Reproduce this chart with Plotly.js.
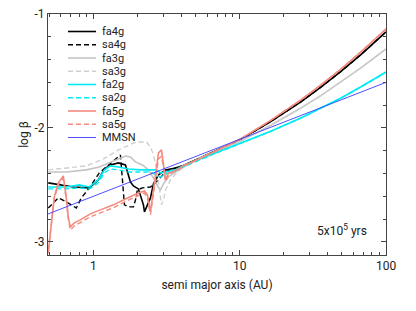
<!DOCTYPE html>
<html>
<head>
<meta charset="utf-8">
<script src="https://cdn.plot.ly/plotly-3.0.1.min.js"></script>
<style>html,body{margin:0;padding:0;background:#fff;}#chart{width:416px;height:311px;}</style>
</head>
<body>
<div id="chart"></div>
<script>
// ---- data (semi major axis in AU, log beta) ----
var tailA = [4.13, 5.4, 7.41, 10.2, 16.3, 26.2, 35.9, 49.2, 67.4, 100];

var fa4gA = [0.492, 0.585, 0.730, 0.939, 1.082, 1.190, 1.307, 1.483, 1.657, 1.792, 1.879, 2.032, 2.200, 2.236, 2.457, 2.576, 2.788, 3.113, 3.644];
var fa4gB = [-2.482, -2.500, -2.518, -2.526, -2.456, -2.360, -2.325, -2.307, -2.325, -2.474, -2.509, -2.535, -2.675, -2.737, -2.614, -2.491, -2.412, -2.368, -2.351];
var fa4gTail = [-2.33, -2.262, -2.184, -2.098, -1.944, -1.771, -1.642, -1.504, -1.356, -1.157];

var sa4gA = [0.492, 0.576, 0.653, 0.765, 0.828, 0.939, 1.099, 1.228, 1.371, 1.531, 1.581, 1.631, 1.737, 1.879, 1.940, 2.001, 2.166, 2.457, 2.659, 2.877, 3.113, 3.644];
var sa4gB = [-2.702, -2.614, -2.649, -2.702, -2.614, -2.526, -2.395, -2.342, -2.289, -2.237, -2.456, -2.675, -2.693, -2.693, -2.632, -2.544, -2.526, -2.518, -2.482, -2.430, -2.386, -2.351];
var sa4gTail = [-2.33, -2.262, -2.184, -2.098, -1.944, -1.771, -1.642, -1.504, -1.356, -1.157];

var fa3gA = [0.492, 0.653, 0.895, 1.099, 1.228, 1.416, 1.657, 1.792, 1.940, 2.166, 2.380, 2.576, 2.744, 2.877, 3.016, 3.264, 3.644];
var fa3gB = [-2.386, -2.386, -2.368, -2.342, -2.316, -2.281, -2.246, -2.254, -2.298, -2.325, -2.368, -2.439, -2.509, -2.544, -2.491, -2.430, -2.386];
var fa3gTail = [-2.345, -2.262, -2.19, -2.114, -1.976, -1.825, -1.716, -1.598, -1.473, -1.307];

var sa3gA = [0.492, 0.653, 0.895, 1.048, 1.171, 1.307, 1.483, 1.657, 1.879, 2.098, 2.307, 2.457, 2.576, 2.701, 2.788, 2.923, 3.016, 3.113, 3.368, 3.644];
var sa3gB = [-2.368, -2.351, -2.333, -2.298, -2.272, -2.237, -2.193, -2.167, -2.132, -2.123, -2.123, -2.167, -2.237, -2.351, -2.500, -2.675, -2.632, -2.544, -2.456, -2.404];
var sa3gTail = [-2.345, -2.262, -2.19, -2.114, -1.976, -1.825, -1.716, -1.598, -1.473, -1.307];

var fa2gA = [0.492, 0.653, 0.802, 0.939, 1.082, 1.190, 1.307, 1.483, 1.737, 2.098, 2.457, 2.701, 2.877, 3.113, 3.644];
var fa2gB = [-2.518, -2.518, -2.500, -2.518, -2.456, -2.368, -2.333, -2.342, -2.360, -2.368, -2.368, -2.368, -2.395, -2.386, -2.368];
var fa2gTail = [-2.33, -2.27, -2.20, -2.132, -2.028, -1.912, -1.827, -1.737, -1.639, -1.509];

var sa2gA = [0.492, 0.653, 0.802, 0.939, 1.082, 1.190, 1.307, 1.483, 1.737, 2.098, 2.457, 2.701, 2.877, 3.113, 3.644];
var sa2gB = [-2.535, -2.535, -2.526, -2.535, -2.482, -2.395, -2.360, -2.368, -2.386, -2.386, -2.386, -2.412, -2.430, -2.404, -2.377];
var sa2gTail = [-2.34, -2.275, -2.205, -2.135, -2.030, -1.914, -1.829, -1.739, -1.641, -1.511];

var fa5gA = [0.492, 0.515, 0.541, 0.576, 0.604, 0.623, 0.653, 0.674, 0.696, 0.741, 0.815, 0.954, 1.117, 1.371, 1.657, 2.032, 2.236, 2.343, 2.457, 2.576, 2.701, 2.788, 2.923, 3.016, 3.113, 3.264, 3.475, 3.821];
var fa5gB = [-3.10, -2.833, -2.605, -2.482, -2.439, -2.421, -2.605, -2.781, -2.868, -2.833, -2.807, -2.754, -2.719, -2.675, -2.623, -2.570, -2.553, -2.588, -2.737, -2.544, -2.325, -2.219, -2.193, -2.307, -2.456, -2.395, -2.386, -2.360];
var fa5gTail = [-2.331, -2.267, -2.183, -2.095, -1.933, -1.754, -1.623, -1.483, -1.332, -1.132];

var sa5gA = [0.492, 0.515, 0.541, 0.576, 0.604, 0.623, 0.653, 0.674, 0.696, 0.741, 0.815, 0.954, 1.117, 1.371, 1.657, 2.032, 2.236, 2.343, 2.457, 2.576, 2.701, 2.788, 2.923, 3.016, 3.113, 3.264, 3.475, 3.821];
var sa5gB = [-3.07, -2.85, -2.62, -2.50, -2.46, -2.44, -2.63, -2.80, -2.895, -2.86, -2.83, -2.78, -2.745, -2.70, -2.645, -2.59, -2.57, -2.62, -2.76, -2.58, -2.37, -2.27, -2.25, -2.34, -2.47, -2.41, -2.39, -2.365];
var sa5gTail = [-2.331, -2.267, -2.183, -2.095, -1.933, -1.754, -1.623, -1.483, -1.332, -1.132];

var mmsnA = [0.49, 100];
var mmsnB = [-2.755, -1.6];

var names = ["fa4g", "sa4g", "fa3g", "sa3g", "fa2g", "sa2g", "fa5g", "sa5g", "MMSN"];
var xTickVals = [1, 10, 100];
var xTickText = ["1", "10", "100"];

// ---- styles ----
var colors = ["#000000", "#000000", "#c4c4c4", "#cfcfcf", "#00ecf4", "#00ecf4", "#f48a7e", "#f48a7e", "#3a3aff"];
var dashes = ["solid", "5px,3px", "solid", "5px,3px", "solid", "5px,3px", "solid", "5px,3px", "solid"];
var widths = [1.6, 1.4, 1.6, 1.4, 1.6, 1.4, 1.6, 1.4, 0.9];

var xs = [fa4gA.concat(tailA), sa4gA.concat(tailA), fa3gA.concat(tailA), sa3gA.concat(tailA),
          fa2gA.concat(tailA), sa2gA.concat(tailA), fa5gA.concat(tailA), sa5gA.concat(tailA), mmsnA];
var ys = [fa4gB.concat(fa4gTail), sa4gB.concat(sa4gTail), fa3gB.concat(fa3gTail), sa3gB.concat(sa3gTail),
          fa2gB.concat(fa2gTail), sa2gB.concat(sa2gTail), fa5gB.concat(fa5gTail), sa5gB.concat(sa5gTail), mmsnB];

var traces = names.map(function (n, i) {
  return {x: xs[i], y: ys[i], name: n, type: "scatter", mode: "lines",
          line: {color: colors[i], width: widths[i], dash: dashes[i], shape: "linear"},
          showlegend: false, hoverinfo: "skip"};
});

// plot-area pixel geometry
var L = 48, R = 386, T = 14, B = 255, W = 416, H = 311;
function px(x) { return (x - L) / (R - L); }
function py(y) { return 1 - (y - T) / (B - T); }

var shapes = [], annotations = [];
names.forEach(function (n, i) {
  var yc = 31.5 + i * 13.25;
  shapes.push({type: "line", xref: "paper", yref: "paper", x0: px(68), x1: px(96), y0: py(yc), y1: py(yc),
               line: {color: colors[i], width: widths[i], dash: dashes[i]}});
  annotations.push({xref: "paper", yref: "paper", x: px(100), y: py(yc), xanchor: "left", yanchor: "middle",
                    text: n, showarrow: false, font: {size: 11, color: "#222"}});
});
annotations.push({xref: "paper", yref: "paper", x: px(369), y: py(230), xanchor: "right", yanchor: "middle",
                  text: "5x10<sup>5</sup> yrs", showarrow: false, font: {size: 12, color: "#222"}});

var minorX = [0.5, 0.6, 0.7, 0.8, 0.9, 2, 3, 4, 5, 6, 7, 8, 9, 20, 30, 40, 50, 60, 70, 80, 90];

var layout = {
  width: W, height: H,
  margin: {l: L, r: W - R, t: T, b: H - B, pad: 0},
  paper_bgcolor: "#fff", plot_bgcolor: "#fff",
  font: {family: "Roboto, 'Open Sans', sans-serif", size: 12, color: "#222"},
  showlegend: false,
  xaxis: {type: "log", range: [Math.log10(0.49), 2], tickmode: "array", tickvals: xTickVals, ticktext: xTickText,
          ticks: "inside", ticklen: 5, tickwidth: 1, tickcolor: "#444", showgrid: false, zeroline: false,
          showline: true, linecolor: "#444", linewidth: 1, mirror: "allticks",
          tickfont: {size: 12, color: "#222"},
          minor: {tickmode: "array", tickvals: minorX, ticks: "inside", ticklen: 3, tickcolor: "#444", showgrid: false},
          title: {text: "semi major axis (AU)", font: {size: 12, color: "#222"}, standoff: 8}},
  yaxis: {range: [-3.115, -1], tickmode: "array", tickvals: [-3, -2, -1], ticktext: ["-3", "-2", "-1"],
          ticks: "inside", ticklen: 5, tickwidth: 1, tickcolor: "#444", showgrid: false, zeroline: false,
          showline: true, linecolor: "#444", linewidth: 1, mirror: "allticks",
          tickfont: {size: 12, color: "#222"},
          minor: {dtick: 0.2, tick0: -3, ticks: "inside", ticklen: 3, tickcolor: "#444", showgrid: false},
          title: {text: "log β", font: {size: 12, color: "#222"}, standoff: 3}},
  shapes: shapes,
  annotations: annotations
};

Plotly.newPlot("chart", traces, layout, {displayModeBar: false, staticPlot: true});
</script>
</body>
</html>
